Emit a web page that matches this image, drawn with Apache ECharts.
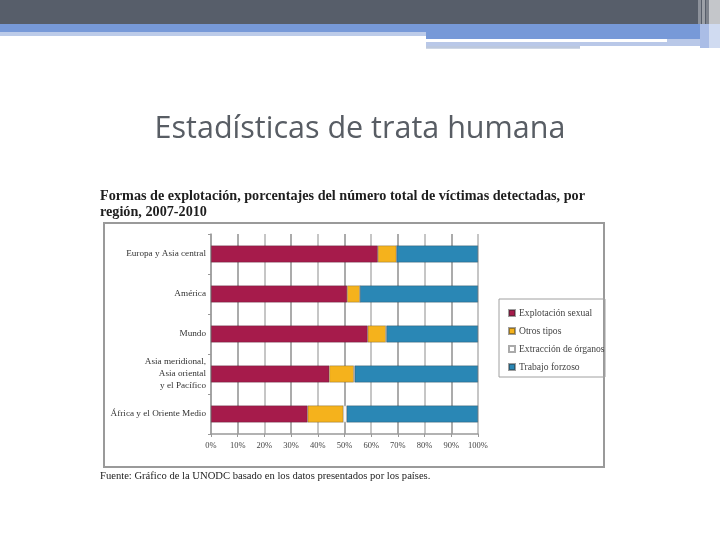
<!DOCTYPE html>
<html><head><meta charset="utf-8">
<script src="https://cdn.jsdelivr.net/npm/echarts@6/dist/echarts.min.js"></script>
<style>html,body{margin:0;padding:0;background:#fff}#c{width:720px;height:540px}</style>
</head><body><div id="c"></div>
<script>
const categories = ["Europa y Asia central", "América", "Mundo", "Asia meridional,\nAsia oriental\ny el Pacífico", "África y el Oriente Medio"];
const seriesNames = ["Explotación sexual", "Otros tipos", "Extracción de órganos", "Trabajo forzoso"];
const sexual = [62.5, 51, 58.7, 44.3, 36.2];
const otros = [7, 4.8, 6.8, 9.2, 13.4];
const organos = [0, 0, 0.2, 0.3, 1.2];
const forzoso = [30.5, 44.2, 34.3, 46.2, 49.2];
const xTicks = [0, 10, 20, 30, 40, 50, 60, 70, 80, 90, 100];

const colors = ["#a61b4b", "#f5b21c", "#ffffff", "#2a87b5"];
const serif = '"Liberation Serif", "DejaVu Serif", serif';
const chart = echarts.init(document.getElementById('c'), null, {renderer: 'canvas'});
const values = [sexual, otros, organos, forzoso];
const option = {
  animation: false,
  backgroundColor: '#fff',
  graphic: [
    {type: 'rect', shape: {x: 0, y: 0, width: 720, height: 24}, style: {fill: '#575e6a'}},
    {type: 'rect', shape: {x: 0, y: 24, width: 720, height: 8}, style: {fill: '#7799d8'}},
    {type: 'rect', shape: {x: 0, y: 32, width: 426, height: 4}, style: {fill: '#bccbe9'}},
    {type: 'rect', shape: {x: 426, y: 32, width: 294, height: 7}, style: {fill: '#7799d8'}},
    {type: 'rect', shape: {x: 667, y: 39, width: 33, height: 3}, style: {fill: '#b9c8e8'}},
    {type: 'rect', shape: {x: 426, y: 42, width: 274, height: 4}, style: {fill: '#b9c8e8'}},
    {type: 'rect', shape: {x: 426, y: 46, width: 154, height: 2.7}, style: {fill: '#bcc8de'}},
    {type: 'rect', shape: {x: 698, y: 0, width: 3, height: 24}, style: {fill: '#8d929b'}},
    {type: 'rect', shape: {x: 702, y: 0, width: 3, height: 24}, style: {fill: '#9ca0a7'}},
    {type: 'rect', shape: {x: 706, y: 0, width: 3, height: 24}, style: {fill: '#7d828b'}},
    {type: 'rect', shape: {x: 709, y: 0, width: 11, height: 24}, style: {fill: '#c4c6ca'}},
    {type: 'rect', shape: {x: 700, y: 24, width: 9, height: 24}, style: {fill: '#aabde6'}},
    {type: 'rect', shape: {x: 709, y: 24, width: 11, height: 24}, style: {fill: '#d0dbf1'}},
    {type: 'text', left: 'center', top: 114, style: {text: 'Estadísticas de trata humana', font: '30.5px "Open Sans", sans-serif', fill: '#585d64'}},
    {type: 'text', x: 100, y: 189, style: {text: 'Formas de explotación, porcentajes del número total de víctimas detectadas, por\nregión, 2007-2010', font: 'bold 14.2px ' + serif, fill: '#1e1e1e', lineHeight: 15.5}},
    {type: 'rect', shape: {x: 104, y: 223, width: 500, height: 244}, style: {fill: 'none', stroke: '#9a9a9a', lineWidth: 2}},
    {type: 'rect', shape: {x: 499, y: 299, width: 106, height: 78}, style: {fill: 'none', stroke: '#a0a0a0', lineWidth: 1}},
    {type: 'text', x: 100, y: 471, style: {text: 'Fuente: Gráfico de la UNODC basado en los datos presentados por los países.', font: '10.6px ' + serif, fill: '#222'}}
  ],
  grid: {left: 211, top: 234, width: 267, height: 200, containLabel: false},
  legend: {
    orient: 'vertical', left: 503, top: 303, icon: 'rect', itemWidth: 6, itemHeight: 6, itemGap: 8,
    textStyle: {fontFamily: serif, fontSize: 9.6, color: '#444', padding: [0, 0, 0, -1]},
    data: seriesNames
  },
  xAxis: {
    type: 'value', min: 0, max: 100, interval: 10,
    axisLine: {show: true, lineStyle: {color: '#999', width: 1.5}},
    axisTick: {show: true, length: 3, lineStyle: {color: '#999'}},
    splitLine: {show: true, lineStyle: {color: ['#b3b3b3', '#8f8f8f'], width: 1.5}},
    axisLabel: {formatter: v => xTicks.includes(v) ? v + '%' : '', fontFamily: serif, fontSize: 8.5, color: '#444', margin: 7}
  },
  yAxis: {
    type: 'category', data: categories, inverse: true,
    axisLine: {show: true, lineStyle: {color: '#999', width: 1.5}},
    axisTick: {show: true, length: 3, inside: false, lineStyle: {color: '#999'}},
    axisLabel: {fontFamily: serif, fontSize: 9.2, color: '#333', margin: 5, lineHeight: 12, align: 'right'}
  },
  series: seriesNames.map((n, i) => ({
    name: n, type: 'bar', stack: 'total', data: values[i], barWidth: 17,
    itemStyle: {color: colors[i], borderColor: i === 2 ? '#aaa' : 'rgba(40,40,40,0.45)', borderWidth: 0.6}
  }))
};
chart.setOption(option);
</script></body></html>
